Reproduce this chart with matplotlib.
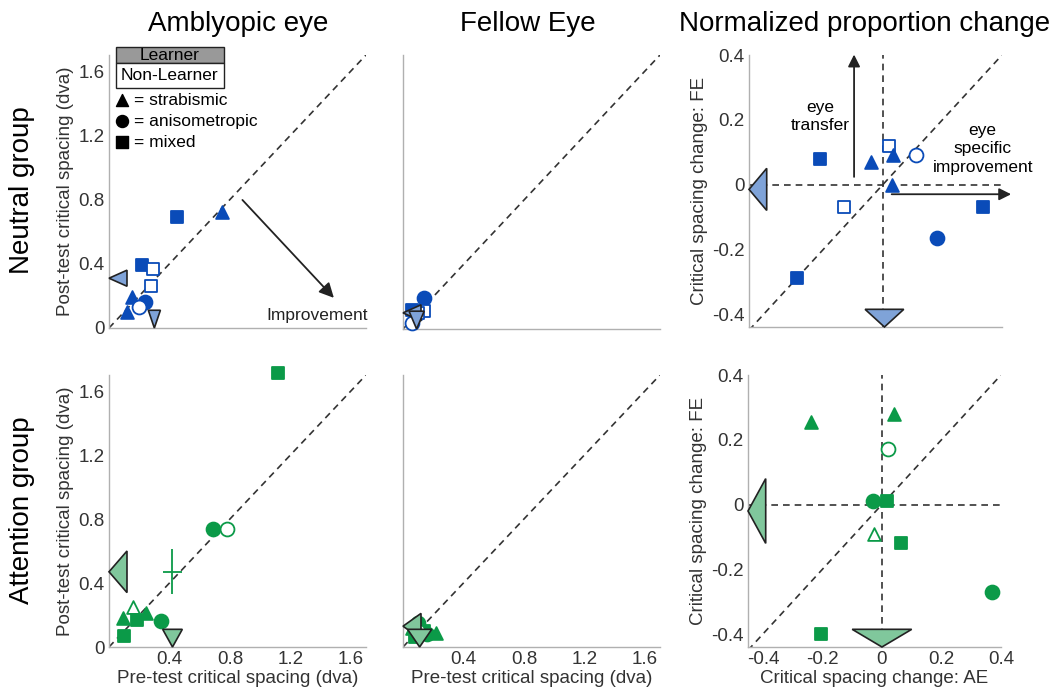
import numpy as np
import matplotlib.pyplot as plt
from matplotlib.patches import Polygon, Rectangle
from matplotlib.transforms import blended_transform_factory

plt.rcParams['font.family'] = ['Liberation Sans', 'DejaVu Sans']

BLUE = '#0a4bb8'
GREEN = '#0b9a48'
BLUE_L = '#7fa3d8'
GREEN_L = '#80c79c'

# ---- data ----
# marker codes: '^' strabismic, 'o' anisometropic, 's' mixed ; filled = learner
# neutral group, amblyopic eye (pre, post)
nae_x = [0.45, 0.75, 0.22, 0.29, 0.28, 0.15, 0.24, 0.20, 0.12]
nae_y = [0.69, 0.72, 0.39, 0.37, 0.26, 0.19, 0.16, 0.13, 0.10]
nae_m = ['s', '^', 's', 's', 's', '^', 'o', 'o', '^']
nae_f = [1, 1, 1, 0, 0, 1, 1, 0, 1]
nae_mean = [0.30, 0.31]
nae_sem = [0.04, 0.05]

# neutral group, fellow eye
nfe_x = [0.14, 0.14, 0.06, 0.08, 0.10, 0.06]
nfe_y = [0.19, 0.11, 0.12, 0.10, 0.10, 0.04]
nfe_m = ['o', 's', 's', '^', 's', 'o']
nfe_f = [1, 0, 1, 1, 0, 0]
nfe_mean = [0.09, 0.10]
nfe_sem = [0.05, 0.05]

# neutral group, normalized change (AE, FE)
nch_x = [-0.21, -0.04, 0.02, 0.035, 0.11, 0.03, -0.13, 0.335, 0.18, -0.29]
nch_y = [0.08, 0.07, 0.12, 0.09, 0.09, 0.00, -0.07, -0.07, -0.165, -0.29]
nch_m = ['s', '^', 's', '^', 'o', '^', 's', 's', 'o', 's']
nch_f = [1, 1, 0, 1, 0, 1, 0, 1, 1, 1]
nch_mean = [0.005, -0.015]
nch_sem = [0.065, 0.065]

# attention group, amblyopic eye
aae_x = [1.12, 0.69, 0.78, 0.16, 0.09, 0.185, 0.245, 0.345, 0.10]
aae_y = [1.71, 0.74, 0.74, 0.25, 0.18, 0.17, 0.21, 0.16, 0.07]
aae_m = ['s', 'o', 'o', '^', '^', 's', '^', 'o', 's']
aae_f = [1, 1, 0, 0, 1, 1, 1, 1, 1]
aae_mean = [0.42, 0.47]
aae_sem = [0.065, 0.13]
aae_cross_yerr = 0.14

# attention group, fellow eye
afe_x = [0.10, 0.22, 0.08, 0.06, 0.14, 0.12, 0.16, 0.10]
afe_y = [0.15, 0.09, 0.06, 0.12, 0.10, 0.12, 0.08, 0.10]
afe_m = ['o', '^', 's', '^', 's', '^', 'o', 'o']
afe_f = [1, 1, 1, 1, 1, 0, 1, 0]
afe_mean = [0.11, 0.13]
afe_sem = [0.08, 0.08]

# attention group, normalized change
ach_x = [-0.24, 0.04, 0.02, -0.03, 0.017, -0.025, 0.065, 0.37, -0.205]
ach_y = [0.256, 0.28, 0.17, 0.012, 0.01, -0.09, -0.12, -0.27, -0.40]
ach_m = ['^', '^', 'o', 'o', 's', '^', 's', 'o', 's']
ach_f = [1, 1, 0, 1, 1, 0, 1, 1, 1]
ach_mean = [0.0, -0.02]
ach_sem = [0.10, 0.10]

fig = plt.figure(figsize=(10.6, 6.89), dpi=100)
W, H = 1060., 689.

def make_ax(l, r, t, b):
    return fig.add_axes([l / W, 1 - b / H, (r - l) / W, (b - t) / H])

def style(ax):
    for s in ['top', 'right']:
        ax.spines[s].set_visible(False)
    for s in ['left', 'bottom']:
        ax.spines[s].set_color('#b0b0b0')
        ax.spines[s].set_linewidth(1.0)
    ax.tick_params(length=0, labelsize=13.5, colors='#333333', pad=3)

def points(ax, xs, ys, ms, fs, col):
    for x, y, m, f in zip(xs, ys, ms, fs):
        sz = 85 if m != 'o' else 100
        ax.scatter(x, y, marker=m, s=sz, facecolor=col if f else 'white',
                   edgecolor=col, linewidth=1.3, zorder=3, clip_on=False)

def marginals(ax, mean, sem, light, wx=0.07, wy=0.065):
    # left triangle: tip on y axis at mean post value
    trl = blended_transform_factory(ax.transAxes, ax.transData)
    ax.add_patch(Polygon([[0, mean[1]], [wx, mean[1] + sem[1]], [wx, mean[1] - sem[1]]],
                         closed=True, transform=trl, facecolor=light, edgecolor='#222222',
                         lw=1.2, zorder=4, clip_on=False))
    # down triangle: tip on x axis at mean pre value
    trb = blended_transform_factory(ax.transData, ax.transAxes)
    ax.add_patch(Polygon([[mean[0], 0], [mean[0] - sem[0], wy], [mean[0] + sem[0], wy]],
                         closed=True, transform=trb, facecolor=light, edgecolor='#222222',
                         lw=1.2, zorder=4, clip_on=False))

dash = dict(color='#333333', ls=(0, (4, 3)), lw=1.2, zorder=1)
lab = dict(fontsize=13.5, color='#333333')

ax1 = make_ax(109, 366, 55, 328)
ax2 = make_ax(403, 660, 55, 329)
ax3 = make_ax(749, 1002, 55, 327)
ax4 = make_ax(109, 366, 375, 647)
ax5 = make_ax(403, 660, 375, 647)
ax6 = make_ax(748, 1001, 375, 647)

for ax in [ax1, ax2, ax4, ax5]:
    style(ax)
    ax.set_xlim(0, 1.7)
    ax.set_ylim(0, 1.7)
    ax.plot([0, 1.7], [0, 1.7], **dash)
    ax.set_xticks([0.4, 0.8, 1.2, 1.6])
    ax.set_yticks([0, 0.4, 0.8, 1.2, 1.6])
    ax.set_yticklabels(['0', '0.4', '0.8', '1.2', '1.6'])

for ax in [ax3, ax6]:
    style(ax)
    ax.set_xlim(-0.45, 0.4)
    ax.set_ylim(-0.44, 0.4)
    ax.plot([-0.45, 0.4], [-0.45, 0.4], **dash)
    ax.plot([-0.45, 0.4], [0, 0], **dash)
    ax.plot([0, 0], [-0.44, 0.4], **dash)
    ax.set_xticks([-0.4, -0.2, 0, 0.2, 0.4])
    ax.set_xticklabels(['-0.4', '-0.2', '0', '0.2', '0.4'])
    ax.set_yticks([-0.4, -0.2, 0, 0.2, 0.4])
    ax.set_yticklabels(['-0.4', '-0.2', '0', '0.2', '0.4'])
    ax.set_ylabel('Critical spacing change: FE', labelpad=3, **lab)

for ax in [ax1, ax2, ax3]:
    ax.set_xticklabels([])
for ax in [ax2, ax5]:
    ax.set_yticklabels([])
for ax in [ax1, ax4]:
    ax.set_ylabel('Post-test critical spacing (dva)', labelpad=3, **lab)
for ax in [ax4, ax5]:
    ax.set_xlabel('Pre-test critical spacing (dva)', labelpad=1, **lab)
ax6.set_xlabel('Critical spacing change: AE', labelpad=1, **lab)

points(ax1, nae_x, nae_y, nae_m, nae_f, BLUE)
marginals(ax1, nae_mean, nae_sem, BLUE_L)
points(ax2, nfe_x, nfe_y, nfe_m, nfe_f, BLUE)
marginals(ax2, nfe_mean, nfe_sem, BLUE_L)
points(ax3, nch_x, nch_y, nch_m, nch_f, BLUE)
marginals(ax3, nch_mean, nch_sem, BLUE_L)

points(ax4, aae_x, aae_y, aae_m, aae_f, GREEN)
ax4.errorbar(aae_mean[0], aae_mean[1], xerr=aae_sem[0], yerr=aae_cross_yerr, color=GREEN,
             lw=1.3, capsize=0, zorder=3)
marginals(ax4, aae_mean, aae_sem, GREEN_L)
points(ax5, afe_x, afe_y, afe_m, afe_f, GREEN)
marginals(ax5, afe_mean, afe_sem, GREEN_L)
points(ax6, ach_x, ach_y, ach_m, ach_f, GREEN)
marginals(ax6, ach_mean, ach_sem, GREEN_L)

# improvement arrow
ax1.annotate('', xy=(1.50, 0.175), xytext=(0.87, 0.81),
             arrowprops=dict(arrowstyle='-|>', color='#222222', lw=1.3, mutation_scale=22))
ax1.text(1.38, 0.08, 'Improvement', ha='center', va='center', fontsize=12.5, color='#222222')

# legend boxes
ax1.add_patch(Rectangle((0.027, 0.971), 0.42, 0.058, transform=ax1.transAxes,
                        facecolor='#999999', edgecolor='#222222', lw=1.0, clip_on=False))
ax1.add_patch(Rectangle((0.027, 0.879), 0.42, 0.092, transform=ax1.transAxes,
                        facecolor='white', edgecolor='#222222', lw=1.0, clip_on=False))
ax1.text(0.237, 1.0, 'Learner', transform=ax1.transAxes, ha='center', va='center', fontsize=12.5)
ax1.text(0.237, 0.925, 'Non-Learner', transform=ax1.transAxes, ha='center', va='center', fontsize=12.5)
for yy, mk, txt in [(0.835, '^', '= strabismic'), (0.758, 'o', '= anisometropic'), (0.681, 's', '= mixed')]:
    ax1.scatter(0.05, yy, marker=mk, s=75, color='black', transform=ax1.transAxes, clip_on=False)
    ax1.text(0.098, yy, txt, transform=ax1.transAxes, ha='left', va='center', fontsize=12.5)

# eye transfer / eye specific arrows
ax3.annotate('', xy=(-0.097, 0.41), xytext=(-0.097, 0.015),
             arrowprops=dict(arrowstyle='-|>', color='#222222', lw=1.3, mutation_scale=18),
             annotation_clip=False)
ax3.text(-0.21, 0.21, 'eye\ntransfer', ha='center', va='center', fontsize=12.5, linespacing=1.3)
ax3.annotate('', xy=(0.44, -0.03), xytext=(0.02, -0.03),
             arrowprops=dict(arrowstyle='-|>', color='#222222', lw=1.3, mutation_scale=18),
             annotation_clip=False)
ax3.text(0.335, 0.11, 'eye\nspecific\nimprovement', ha='center', va='center', fontsize=12.5,
         linespacing=1.3)

# titles and row labels
fig.text(238 / W, 1 - 24 / H, 'Amblyopic eye', ha='center', va='center', fontsize=20)
fig.text(528 / W, 1 - 24 / H, 'Fellow Eye', ha='center', va='center', fontsize=20)
fig.text(865 / W, 1 - 24 / H, 'Normalized proportion change', ha='center', va='center', fontsize=20)
fig.text(22 / W, 1 - 190 / H, 'Neutral group', rotation=90, ha='center', va='center', fontsize=20)
fig.text(22 / W, 1 - 510 / H, 'Attention group', rotation=90, ha='center', va='center', fontsize=20)

fig.savefig('out.png', dpi=100)
